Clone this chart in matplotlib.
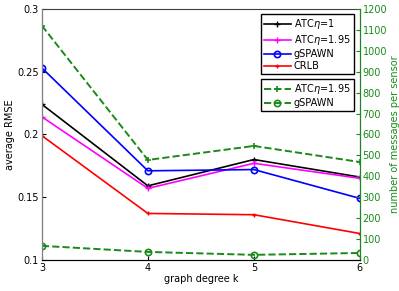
import matplotlib.pyplot as plt

degrees = [3, 4, 5, 6]
rmse_atc1 = [0.224, 0.159, 0.180, 0.166]
rmse_atc195 = [0.214, 0.157, 0.177, 0.165]
rmse_gspawn = [0.253, 0.171, 0.172, 0.149]
rmse_crlb = [0.199, 0.137, 0.136, 0.121]
msg_atc195 = [1120, 478, 545, 468]
msg_gspawn = [67, 38, 24, 33]
rmse_ticks = [0.1, 0.15, 0.2, 0.25, 0.3]
msg_ticks = list(range(0, 1300, 100))

green = '#1a8a1a'
plt.rcParams['font.size'] = 7
fig = plt.figure(figsize=(3.99, 2.91), dpi=100)
ax = fig.add_axes([0.105, 0.107, 0.797, 0.862])
ax2 = ax.twinx()

l1, = ax.plot(degrees, rmse_atc1, '-', color='black', marker='+', ms=5, lw=1.2)
l2, = ax.plot(degrees, rmse_atc195, '-', color='magenta', marker='+', ms=5, lw=1.2)
l3, = ax.plot(degrees, rmse_gspawn, '-', color='blue', marker='o', ms=4.5, mfc='none', mew=1.2, lw=1.2)
l4, = ax.plot(degrees, rmse_crlb, '-', color='red', marker='+', ms=3, lw=1.2)

m1, = ax2.plot(degrees, msg_atc195, '--', color=green, marker='+', ms=5, mew=1.2, lw=1.4)
m2, = ax2.plot(degrees, msg_gspawn, '--', color=green, marker='o', ms=4.5, mfc='none', mew=1.2, lw=1.4)

ax.set_xlim(3, 6)
ax.set_xticks(degrees)
ax.set_yticks(rmse_ticks, [f'{t:g}' for t in rmse_ticks])
ax.set_ylim(0.1, 0.3)
ax2.set_yticks(msg_ticks)
ax2.set_ylim(0, 1200)

ax.set_xlabel('graph degree k', labelpad=1)
ax.set_ylabel('average RMSE', labelpad=2)
ax2.set_ylabel('number of messages per sensor', color=green, labelpad=2)

ax.tick_params(direction='in', length=3, pad=2)
ax2.tick_params(direction='in', length=3, pad=2, colors=green)
for s in ['left', 'top', 'bottom']:
    ax.spines[s].set_color('#404040')
ax2.spines['right'].set_color(green)
ax2.spines['left'].set_color('#808080')
ax2.spines['top'].set_visible(False)

leg_kw = dict(loc='upper right', fancybox=False, edgecolor='black', framealpha=1,
              handlelength=2.8, borderpad=0.3, labelspacing=0.22, handletextpad=0.3,
              borderaxespad=0)
leg1 = ax2.legend([l1, l2, l3, l4],
                  [r'ATC$\eta$=1', r'ATC$\eta$=1.95', 'gSPAWN', 'CRLB'],
                  bbox_to_anchor=(0.98, 0.98), **leg_kw)
ax2.add_artist(leg1)
ax2.legend([m1, m2], [r'ATC$\eta$=1.95', 'gSPAWN'],
           bbox_to_anchor=(0.98, 0.721), **leg_kw)

fig.savefig('out.png', dpi=100)
